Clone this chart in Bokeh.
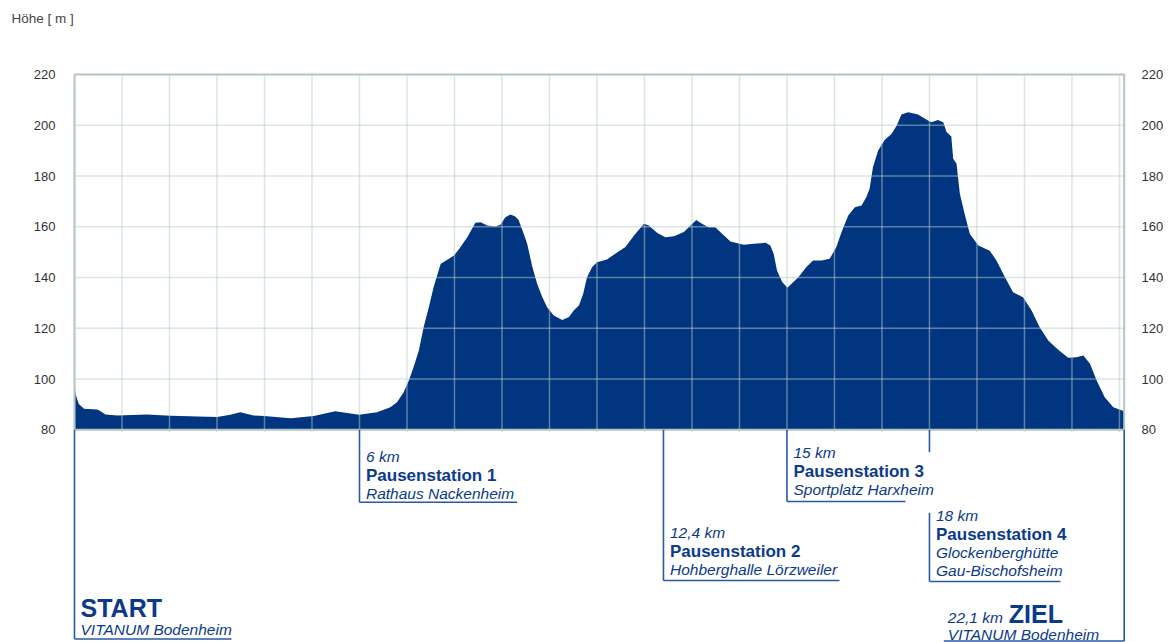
from bokeh.plotting import figure
from bokeh.layouts import column
from bokeh.models import Range1d, LinearAxis, FixedTicker
from bokeh.embed import file_html
from bokeh.resources import INLINE
from bokeh.core.properties import value

# ---------------- data ----------------
km = [0.00, 0.02, 0.09, 0.20, 0.48, 0.55, 0.65, 0.90, 1.53, 2.02, 3.00, 3.28, 3.49, 3.77,
      3.99, 4.55, 5.04, 5.25, 5.49, 5.74, 5.99, 6.37, 6.65, 6.79, 6.93, 7.04, 7.14, 7.25,
      7.35, 7.46, 7.56, 7.71, 7.85, 7.99, 8.09, 8.27, 8.44, 8.55, 8.69, 8.86, 8.97, 9.07,
      9.18, 9.28, 9.35, 9.46, 9.53, 9.64, 9.74, 9.85, 9.95, 10.09, 10.27, 10.41, 10.51,
      10.62, 10.71, 10.79, 10.90, 11.00, 11.21, 11.43, 11.60, 11.78, 11.99, 12.09, 12.27,
      12.44, 12.62, 12.83, 12.97, 13.09, 13.21, 13.35, 13.49, 13.64, 13.81, 14.09, 14.30,
      14.55, 14.65, 14.72, 14.79, 14.90, 15.01, 15.24, 15.41, 15.55, 15.73, 15.90, 16.04,
      16.15, 16.29, 16.43, 16.57, 16.67, 16.74, 16.81, 16.92, 17.06, 17.20, 17.31, 17.41,
      17.55, 17.76, 17.97, 18.04, 18.18, 18.29, 18.36, 18.46, 18.50, 18.57, 18.64, 18.74,
      18.85, 19.03, 19.27, 19.41, 19.59, 19.76, 19.97, 20.15, 20.32, 20.50, 20.71, 20.92,
      21.09, 21.24, 21.38, 21.52, 21.69, 21.87, 22.10]
elev = [99.4, 94.2, 90.2, 88.3, 88.0, 87.3, 86.0, 85.6, 86.0, 85.5, 85.0, 85.9, 86.9, 85.6,
        85.4, 84.6, 85.4, 86.3, 87.3, 86.6, 85.9, 86.9, 88.9, 90.9, 94.8, 99.4, 104.7, 111.2,
        120.4, 128.3, 136.2, 145.4, 147.0, 148.7, 151.0, 155.9, 161.6, 161.8, 160.5, 160.1, 160.8, 163.8,
        164.8, 164.0, 162.7, 157.2, 153.3, 144.1, 137.5, 132.2, 128.3, 125.0, 123.3, 124.4, 127.0,
        129.0, 133.6, 140.1, 144.1, 146.0, 147.1, 150.0, 152.0, 156.6, 161.2, 160.5, 157.5,
        155.9, 156.3, 157.9, 160.5, 162.7, 161.2, 159.8, 159.8, 157.2, 154.2, 152.9, 153.3,
        153.7, 152.6, 149.4, 142.8, 138.2, 136.0, 140.1, 144.1, 146.7, 146.7, 147.4, 152.0,
        157.9, 164.4, 167.7, 168.4, 171.6, 175.0, 183.5, 190.1, 194.3, 196.6, 199.9, 204.2,
        205.1, 204.2, 201.9, 201.2, 202.1, 201.2, 197.3, 195.6, 186.8, 184.8, 173.0, 165.1,
        157.2, 152.6, 150.6, 146.7, 140.1, 134.2, 132.2, 127.0, 120.4, 115.2, 111.5, 108.4,
        108.6, 109.3, 106.0, 99.4, 92.8, 88.9, 87.3]

y_ticks = [80, 100, 120, 140, 160, 180, 200, 220]
x_grid_km = list(range(0, 23))
total_km = 22.1

stop_km = [6, 12.4, 15, 18]
stop_dist = ["6 km", "12,4 km", "15 km", "18 km"]
stop_name = ["Pausenstation 1", "Pausenstation 2", "Pausenstation 3", "Pausenstation 4"]
stop_place = [["Rathaus Nackenheim"], ["Hohberghalle Lörzweiler"], ["Sportplatz Harxheim"],
              ["Glockenberghütte", "Gau-Bischofsheim"]]
start_title, start_place = "START", "VITANUM Bodenheim"
goal_dist, goal_title, goal_place = "22,1 km", "ZIEL", "VITANUM Bodenheim"
y_label = "Höhe [ m ]"

# ---------------- layout ----------------
W = 1168
TOP_H = 30
H = 642 - TOP_H
FRAME_L, FRAME_R, FRAME_T, FRAME_B = 70, 1128, 70, 642   # page pixels
X0_PAGE, XEND_PAGE = 74.0, 1123.7      # page x of 0 km and 22.1 km
Y80_PAGE, Y220_PAGE = 429.3, 74.0      # page y of 80 m and 220 m
PXK = (XEND_PAGE - X0_PAGE) / total_km
PXM = (Y80_PAGE - Y220_PAGE) / 140.0


def kx(px):
    return (px - X0_PAGE) / PXK


def my(py):
    return 80 + (Y80_PAGE - py) / PXM


FILL = "#02357f"
TXT = "#0b3a8b"
LINE = "#2b58a6"
FONT = "Liberation Sans"

# small header strip carrying the axis title
top = figure(width=W, height=TOP_H, output_backend="svg", toolbar_location=None,
             x_range=Range1d(0, W), y_range=Range1d(TOP_H, 0),
             x_axis_location=None, y_axis_location=None,
             min_border_left=0, min_border_right=0, min_border_top=0, min_border_bottom=0)
top.frame_align = False
top.title.visible = False
top.outline_line_color = None
top.grid.visible = False
top.text(x=[11], y=[18.3], text=[y_label], text_font=value(FONT), text_font_size="13.5px",
         text_color="#444444", text_baseline="middle", text_align="left")

p = figure(width=W, height=H, output_backend="svg", toolbar_location=None,
           x_range=Range1d(kx(FRAME_L), kx(FRAME_R)), y_range=Range1d(my(FRAME_B), my(FRAME_T)),
           x_axis_location=None, y_axis_location="left",
           min_border_left=FRAME_L, min_border_right=W - FRAME_R,
           min_border_top=FRAME_T - TOP_H, min_border_bottom=0,
           background_fill_color="white", border_fill_color="white")
p.frame_align = False
p.title.visible = False
p.outline_line_color = None
p.xgrid.visible = False
p.ygrid.visible = False


def style_axis(ax, standoff):
    ax.ticker = FixedTicker(ticks=y_ticks)
    ax.axis_line_color = None
    ax.major_tick_line_color = None
    ax.minor_tick_line_color = None
    ax.major_tick_out = 0
    ax.major_tick_in = 0
    ax.major_label_standoff = standoff
    ax.major_label_text_font = FONT
    ax.major_label_text_font_size = "13px"
    ax.major_label_text_color = "#333333"


style_axis(p.yaxis[0], 15)
rax = LinearAxis()
style_axis(rax, 13)
p.add_layout(rax, "right")

# profile
p.varea(x=km, y1=[80] * len(km), y2=elev, fill_color=FILL)

# grid
gc, ga, gw = "#b8cccc", 0.5, 1.5
p.segment(x0=x_grid_km, y0=[79] * len(x_grid_km), x1=x_grid_km, y1=[220] * len(x_grid_km),
          line_color=gc, line_alpha=ga, line_width=gw)
hy = y_ticks[1:-1]
p.segment(x0=[0] * len(hy), y0=hy, x1=[total_km] * len(hy), y1=hy,
          line_color=gc, line_alpha=ga, line_width=gw)
p.quad(left=0, right=total_km, bottom=80, top=220, fill_color=None,
       line_color="#b4c6c2", line_width=2)

# leader lines
seg_x0, seg_y0, seg_x1, seg_y1 = [], [], [], []


def seg(xa, ya, xb, yb):
    seg_x0.append(xa); seg_y0.append(ya); seg_x1.append(xb); seg_y1.append(yb)


seg(0, 80, 0, my(638.5)); seg(0, my(638.5), kx(231), my(638.5))
stop_bottom = [501.7, 580.0, 501.0, 581.0]
stop_uend = [516.7, 839.0, 905.0, 1060.0]
for i, k in enumerate(stop_km):
    yb = my(stop_bottom[i])
    if i == 3:
        seg(k, 80, k, my(451.7))
        seg(k, my(512.3), k, yb)
    else:
        seg(k, 80, k, yb)
    seg(k, yb, kx(stop_uend[i]), yb)
seg(total_km, 80, total_km, my(640.5)); seg(kx(943.3), my(640.5), total_km, my(640.5))
p.segment(x0=seg_x0, y0=seg_y0, x1=seg_x1, y1=seg_y1, line_color=LINE, line_width=1.6)

# texts
ital = dict(tx=[], ty=[], tt=[])
bold = dict(tx=[], ty=[], tt=[])
stop_top = [455.7, 532.3, 451.7, 515.0]
dy = [0, 18.8, 36.8, 54.5]
for i, k in enumerate(stop_km):
    x = k + 6.5 / PXK
    ital["tx"].append(x); ital["ty"].append(my(stop_top[i])); ital["tt"].append(stop_dist[i])
    bold["tx"].append(x); bold["ty"].append(my(stop_top[i] + dy[1])); bold["tt"].append(stop_name[i])
    for j, pl in enumerate(stop_place[i]):
        ital["tx"].append(x); ital["ty"].append(my(stop_top[i] + dy[2 + j])); ital["tt"].append(pl)

ital["tx"] += [kx(80), kx(947.3), kx(947.3)]
ital["ty"] += [my(629.3), my(616.7), my(634.3)]
ital["tt"] += [start_place, goal_dist, goal_place]

p.text(x=ital["tx"], y=ital["ty"], text=ital["tt"], text_font=value(FONT),
       text_font_style="italic", text_font_size="15.5px", text_color=TXT,
       text_baseline="middle", text_align="left")
p.text(x=bold["tx"], y=bold["ty"], text=bold["tt"], text_font=value(FONT),
       text_font_style="bold", text_font_size="17px", text_color=TXT,
       text_baseline="middle", text_align="left")
p.text(x=[kx(80), kx(1008.3)], y=[my(607.3), my(613.3)], text=[start_title, goal_title],
       text_font=value(FONT), text_font_style="bold", text_font_size="25px", text_color=TXT,
       text_baseline="middle", text_align="left")

layout = column(top, p, spacing=0)
open("out.html", "w").write(file_html(layout, INLINE))
